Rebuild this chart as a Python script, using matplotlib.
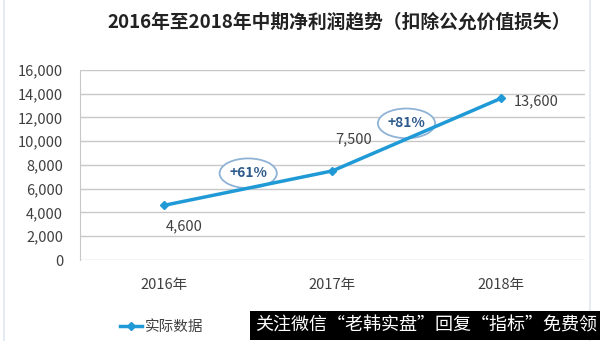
import matplotlib
matplotlib.use("Agg")
import matplotlib.pyplot as plt
from matplotlib.patches import Ellipse, Rectangle

plt.rcParams['font.family'] = ['Noto Sans CJK SC', 'DejaVu Sans']

# data
years = ["2016年", "2017年", "2018年"]
profit = [4600, 7500, 13600]
growth_labels = ["+61%", "+81%"]
value_labels = ["4,600", "7,500", "13,600"]
yticks = [0, 2000, 4000, 6000, 8000, 10000, 12000, 14000, 16000]

LINE_COLOR = "#1f9ad6"
GRID_COLOR = "#c8c8c8"
TEXT_COLOR = "#404040"

fig = plt.figure(figsize=(6.0, 3.41), dpi=100)
ax = fig.add_axes([0.133, 0.2375, 0.842, 0.5575])

# faint outer frame
fig.add_artist(Rectangle((0.007, -0.01), 0.977, 1.02, transform=fig.transFigure,
                         facecolor="none", edgecolor="#dfe7f0", linewidth=1.2))

x = list(range(len(years)))
line, = ax.plot(x, profit, color=LINE_COLOR, linewidth=2.5, marker="D",
                markersize=4.5, label="实际数据")

ax.set_xlim(-0.5, 2.5)
ax.set_ylim(0, 16000)
ax.set_yticks(yticks)
ax.set_yticklabels([f"{v:,}" for v in yticks], fontsize=10.5, color=TEXT_COLOR)
ax.set_xticks(x)
ax.set_xticklabels(years, fontsize=10.5, color=TEXT_COLOR)
ax.tick_params(length=0, pad=12)
ax.tick_params(axis="x", pad=13)
ax.grid(True, axis="y", color=GRID_COLOR, linewidth=1)
ax.set_axisbelow(True)
for side in ["top", "right", "bottom"]:
    ax.spines[side].set_visible(False)
ax.spines["left"].set_color(GRID_COLOR)

# value labels
ax.annotate(value_labels[0], (x[0], profit[0]), xytext=(1, -18),
            textcoords="offset points", fontsize=10.5, color=TEXT_COLOR)
ax.annotate(value_labels[1], (x[1], profit[1]), xytext=(2, 20),
            textcoords="offset points", fontsize=10.5, color=TEXT_COLOR)
ax.annotate(value_labels[2], (x[2], profit[2]), xytext=(9, -5),
            textcoords="offset points", fontsize=10.5, color=TEXT_COLOR)

# growth ellipses
for (gx, gy), txt in zip([(0.5, 7300), (1.44, 11500)], growth_labels):
    ax.add_patch(Ellipse((gx, gy), 0.34, 2500, facecolor="white",
                         edgecolor="#8fb3d6", linewidth=1.3, zorder=1))
    ax.text(gx, gy, txt, ha="center", va="center", fontsize=10,
            fontweight="bold", color="#2e5a8c", zorder=2)

fig.text(0.565, 0.935, "2016年至2018年中期净利润趋势（扣除公允价值损失）",
         ha="center", va="center", fontsize=13.5, fontweight="bold", color="#222222")

fig.legend(handles=[line], loc="center", bbox_to_anchor=(0.27, 0.04),
           frameon=False, fontsize=10.5, handlelength=1.5, handletextpad=0.2,
           labelcolor=TEXT_COLOR)

fig.text(0.995, 0.045, "关注微信“老韩实盘”回复“指标”免费领", ha="right", va="center",
         fontsize=13, color="white",
         bbox=dict(boxstyle="square,pad=0.3", facecolor="black", edgecolor="none"))

fig.savefig("out.png", dpi=100)
